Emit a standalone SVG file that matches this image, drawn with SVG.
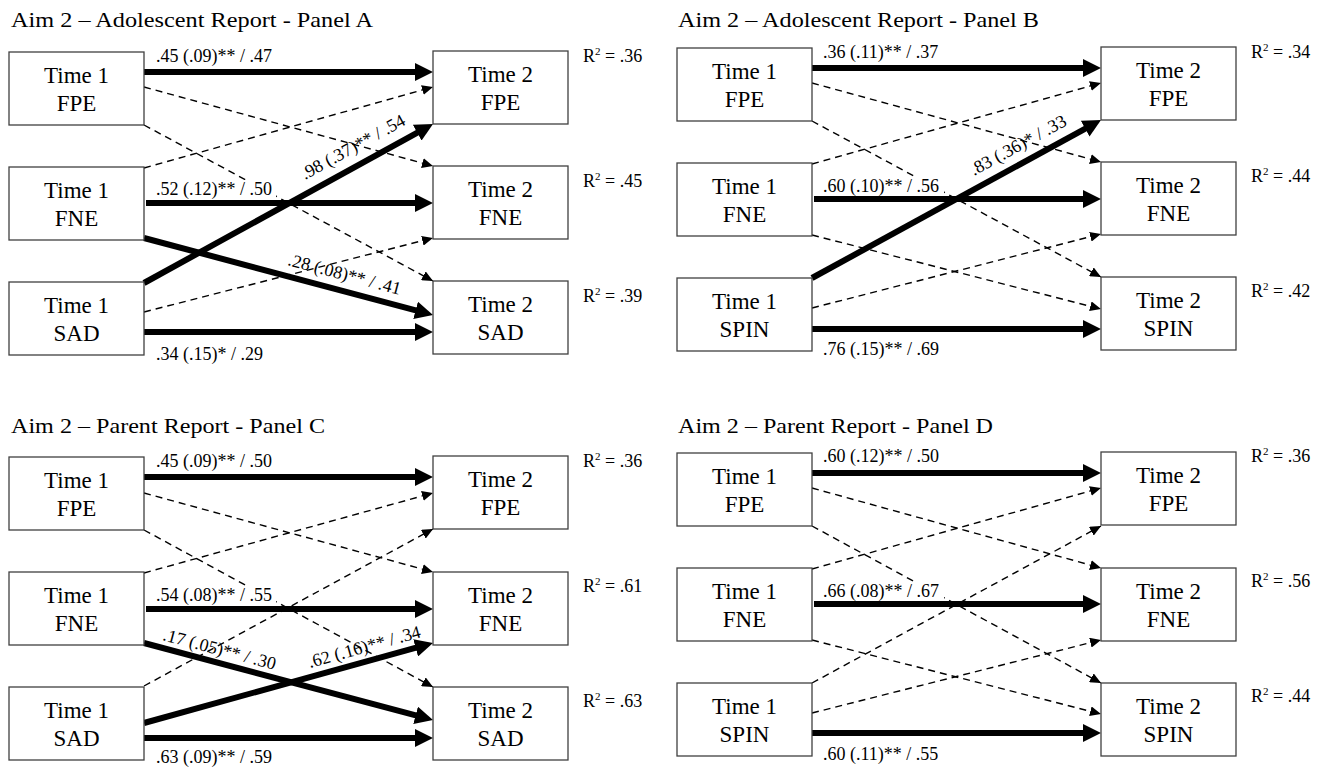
<svg xmlns="http://www.w3.org/2000/svg" width="1324" height="768" viewBox="0 0 1324 768" font-family="'Liberation Serif', 'Times New Roman', serif">
<style>
text{font-family:'Liberation Serif','Times New Roman',serif;fill:#000}
.bg{fill:#fff}
.box{fill:#fff;stroke:#404040;stroke-width:1.3}
.nt{font-size:23px;text-anchor:middle}
.lbl{font-size:18px}
.ttl{font-size:21px}
.thick{stroke:#000;stroke-width:6;fill:none;marker-end:url(#ah)}
.dash{stroke:#000;stroke-width:1.4;stroke-dasharray:7 5;fill:none;marker-end:url(#ahs)}
.lb{fill:#fff}
</style>
<defs>
<marker id="ah" markerUnits="userSpaceOnUse" markerWidth="18" markerHeight="18" viewBox="0 0 18 18" refX="8" refY="9" orient="auto"><path d="M0,0 L18,9 L0,18 z" fill="#000"/></marker>
<marker id="ahs" markerUnits="userSpaceOnUse" markerWidth="11" markerHeight="10" viewBox="0 0 11 10" refX="11" refY="5" orient="auto"><path d="M0,0 L11,5 L0,10 z" fill="#000"/></marker>
</defs>
<rect class="bg" x="0" y="0" width="1324" height="768"/>

<g id="titles">
<text class="ttl" x="11" y="27" textLength="362" lengthAdjust="spacingAndGlyphs">Aim 2 – Adolescent Report - Panel A</text>
<text class="ttl" x="678" y="27" textLength="361" lengthAdjust="spacingAndGlyphs">Aim 2 – Adolescent Report - Panel B</text>
<text class="ttl" x="11" y="433" textLength="314" lengthAdjust="spacingAndGlyphs">Aim 2 – Parent Report - Panel C</text>
<text class="ttl" x="678" y="433" textLength="315" lengthAdjust="spacingAndGlyphs">Aim 2 – Parent Report - Panel D</text>
</g>

<g id="connectors">
<!-- Panel A -->
<line class="dash" x1="144" y1="87" x2="433" y2="166"/>
<line class="dash" x1="144" y1="125" x2="433" y2="281"/>
<line class="dash" x1="144" y1="168" x2="433" y2="87"/>
<line class="dash" x1="144" y1="312" x2="433" y2="238"/>
<line class="thick" x1="144" y1="72" x2="423" y2="72"/>
<line class="thick" x1="146" y1="203" x2="423" y2="203"/>
<line class="thick" x1="144" y1="238" x2="423.34" y2="312.43"/>
<line class="thick" x1="144" y1="283" x2="424.24" y2="128.82"/>
<line class="thick" x1="144" y1="332" x2="423" y2="332"/>
<!-- Panel B -->
<line class="dash" x1="812" y1="83" x2="1101" y2="162"/>
<line class="dash" x1="812" y1="121" x2="1101" y2="277"/>
<line class="dash" x1="812" y1="164" x2="1101" y2="83"/>
<line class="dash" x1="812" y1="235" x2="1101" y2="309"/>
<line class="dash" x1="812" y1="308" x2="1101" y2="234"/>
<line class="thick" x1="812" y1="68" x2="1091" y2="68"/>
<line class="thick" x1="814" y1="199" x2="1091" y2="199"/>
<line class="thick" x1="812" y1="278" x2="1092.23" y2="124.80"/>
<line class="thick" x1="812" y1="329" x2="1091" y2="329"/>
<!-- Panel C -->
<line class="dash" x1="144" y1="493" x2="433" y2="572"/>
<line class="dash" x1="144" y1="530" x2="433" y2="687"/>
<line class="dash" x1="144" y1="573" x2="433" y2="493"/>
<line class="dash" x1="144" y1="686" x2="433" y2="529"/>
<line class="thick" x1="144" y1="477" x2="423" y2="477"/>
<line class="thick" x1="146" y1="609" x2="423" y2="609"/>
<line class="thick" x1="144" y1="643" x2="423.34" y2="717.43"/>
<line class="thick" x1="144" y1="723" x2="423.36" y2="645.67"/>
<line class="thick" x1="144" y1="738" x2="423" y2="738"/>
<!-- Panel D -->
<line class="dash" x1="812" y1="488" x2="1101" y2="568"/>
<line class="dash" x1="812" y1="526" x2="1101" y2="683"/>
<line class="dash" x1="812" y1="569" x2="1101" y2="488"/>
<line class="dash" x1="812" y1="640" x2="1101" y2="714"/>
<line class="dash" x1="812" y1="683" x2="1101" y2="526"/>
<line class="dash" x1="812" y1="713" x2="1101" y2="640"/>
<line class="thick" x1="812" y1="473" x2="1091" y2="473"/>
<line class="thick" x1="814" y1="604" x2="1091" y2="604"/>
<line class="thick" x1="812" y1="733" x2="1091" y2="733"/>
</g>

<g id="labels">
<rect class="lb" x="154" y="180" width="122" height="18"/>
<rect class="lb" x="821" y="177" width="123" height="18"/>
<rect class="lb" x="154" y="586" width="122" height="18"/>
<rect class="lb" x="821" y="582" width="123" height="18"/>
<!-- Panel A -->
<text class="lbl" x="156" y="62">.45 (.09)** / .47</text>
<text class="lbl" x="156" y="195">.52 (.12)** / .50</text>
<text class="lbl" x="156" y="360">.34 (.15)* / .29</text>
<text class="lbl" transform="translate(305,180) rotate(-28.8)">.98 (.37)** / .54</text>
<text class="lbl" transform="translate(287,265) rotate(14.9)">.28 (.08)** / .41</text>
<text class="lbl" x="583" y="62">R<tspan font-size="11" dy="-7">2</tspan><tspan dy="7"> = .36</tspan></text>
<text class="lbl" x="583" y="187">R<tspan font-size="11" dy="-7">2</tspan><tspan dy="7"> = .45</tspan></text>
<text class="lbl" x="583" y="302">R<tspan font-size="11" dy="-7">2</tspan><tspan dy="7"> = .39</tspan></text>
<!-- Panel B -->
<text class="lbl" x="823" y="58">.36 (.11)** / .37</text>
<text class="lbl" x="823" y="192">.60 (.10)** / .56</text>
<text class="lbl" x="823" y="355">.76 (.15)** / .69</text>
<text class="lbl" transform="translate(974,176) rotate(-28.7)">.83 (.36)* / .33</text>
<text class="lbl" x="1251" y="58">R<tspan font-size="11" dy="-7">2</tspan><tspan dy="7"> = .34</tspan></text>
<text class="lbl" x="1251" y="182">R<tspan font-size="11" dy="-7">2</tspan><tspan dy="7"> = .44</tspan></text>
<text class="lbl" x="1251" y="297">R<tspan font-size="11" dy="-7">2</tspan><tspan dy="7"> = .42</tspan></text>
<!-- Panel C -->
<text class="lbl" x="156" y="467">.45 (.09)** / .50</text>
<text class="lbl" x="156" y="601">.54 (.08)** / .55</text>
<text class="lbl" x="156" y="763">.63 (.09)** / .59</text>
<text class="lbl" transform="translate(162,640) rotate(14.9)">.17 (.05)** / .30</text>
<text class="lbl" transform="translate(310,668) rotate(-15.5)">.62 (.16)** / .34</text>
<text class="lbl" x="583" y="467">R<tspan font-size="11" dy="-7">2</tspan><tspan dy="7"> = .36</tspan></text>
<text class="lbl" x="583" y="592">R<tspan font-size="11" dy="-7">2</tspan><tspan dy="7"> = .61</tspan></text>
<text class="lbl" x="583" y="707">R<tspan font-size="11" dy="-7">2</tspan><tspan dy="7"> = .63</tspan></text>
<!-- Panel D -->
<text class="lbl" x="823" y="462">.60 (.12)** / .50</text>
<text class="lbl" x="823" y="597">.66 (.08)** / .67</text>
<text class="lbl" x="823" y="760">.60 (.11)** / .55</text>
<text class="lbl" x="1251" y="462">R<tspan font-size="11" dy="-7">2</tspan><tspan dy="7"> = .36</tspan></text>
<text class="lbl" x="1251" y="587">R<tspan font-size="11" dy="-7">2</tspan><tspan dy="7"> = .56</tspan></text>
<text class="lbl" x="1251" y="702">R<tspan font-size="11" dy="-7">2</tspan><tspan dy="7"> = .44</tspan></text>
</g>

<!-- Panel A nodes -->
<g id="a_t1_fpe"><rect class="box" x="9" y="52" width="135" height="73"/><text class="nt" x="76.5" y="83">Time 1</text><text class="nt" x="76.5" y="111">FPE</text></g>
<g id="a_t1_fne"><rect class="box" x="9" y="167" width="135" height="73"/><text class="nt" x="76.5" y="198">Time 1</text><text class="nt" x="76.5" y="226">FNE</text></g>
<g id="a_t1_sad"><rect class="box" x="9" y="282" width="135" height="73"/><text class="nt" x="76.5" y="313">Time 1</text><text class="nt" x="76.5" y="341">SAD</text></g>
<g id="a_t2_fpe"><rect class="box" x="433" y="51" width="135" height="73"/><text class="nt" x="500.5" y="82">Time 2</text><text class="nt" x="500.5" y="110">FPE</text></g>
<g id="a_t2_fne"><rect class="box" x="433" y="166" width="135" height="73"/><text class="nt" x="500.5" y="197">Time 2</text><text class="nt" x="500.5" y="225">FNE</text></g>
<g id="a_t2_sad"><rect class="box" x="433" y="281" width="135" height="73"/><text class="nt" x="500.5" y="312">Time 2</text><text class="nt" x="500.5" y="340">SAD</text></g>
<!-- Panel B nodes -->
<g id="b_t1_fpe"><rect class="box" x="677" y="48" width="135" height="73"/><text class="nt" x="744.5" y="79">Time 1</text><text class="nt" x="744.5" y="107">FPE</text></g>
<g id="b_t1_fne"><rect class="box" x="677" y="163" width="135" height="73"/><text class="nt" x="744.5" y="194">Time 1</text><text class="nt" x="744.5" y="222">FNE</text></g>
<g id="b_t1_spin"><rect class="box" x="677" y="278" width="135" height="73"/><text class="nt" x="744.5" y="309">Time 1</text><text class="nt" x="744.5" y="337">SPIN</text></g>
<g id="b_t2_fpe"><rect class="box" x="1101" y="47" width="135" height="73"/><text class="nt" x="1168.5" y="78">Time 2</text><text class="nt" x="1168.5" y="106">FPE</text></g>
<g id="b_t2_fne"><rect class="box" x="1101" y="162" width="135" height="73"/><text class="nt" x="1168.5" y="193">Time 2</text><text class="nt" x="1168.5" y="221">FNE</text></g>
<g id="b_t2_spin"><rect class="box" x="1101" y="277" width="135" height="73"/><text class="nt" x="1168.5" y="308">Time 2</text><text class="nt" x="1168.5" y="336">SPIN</text></g>
<!-- Panel C nodes -->
<g id="c_t1_fpe"><rect class="box" x="9" y="457" width="135" height="73"/><text class="nt" x="76.5" y="488">Time 1</text><text class="nt" x="76.5" y="516">FPE</text></g>
<g id="c_t1_fne"><rect class="box" x="9" y="572" width="135" height="73"/><text class="nt" x="76.5" y="603">Time 1</text><text class="nt" x="76.5" y="631">FNE</text></g>
<g id="c_t1_sad"><rect class="box" x="9" y="687" width="135" height="73"/><text class="nt" x="76.5" y="718">Time 1</text><text class="nt" x="76.5" y="746">SAD</text></g>
<g id="c_t2_fpe"><rect class="box" x="433" y="456" width="135" height="73"/><text class="nt" x="500.5" y="487">Time 2</text><text class="nt" x="500.5" y="515">FPE</text></g>
<g id="c_t2_fne"><rect class="box" x="433" y="572" width="135" height="73"/><text class="nt" x="500.5" y="603">Time 2</text><text class="nt" x="500.5" y="631">FNE</text></g>
<g id="c_t2_sad"><rect class="box" x="433" y="687" width="135" height="73"/><text class="nt" x="500.5" y="718">Time 2</text><text class="nt" x="500.5" y="746">SAD</text></g>
<!-- Panel D nodes -->
<g id="d_t1_fpe"><rect class="box" x="677" y="453" width="135" height="73"/><text class="nt" x="744.5" y="484">Time 1</text><text class="nt" x="744.5" y="512">FPE</text></g>
<g id="d_t1_fne"><rect class="box" x="677" y="568" width="135" height="73"/><text class="nt" x="744.5" y="599">Time 1</text><text class="nt" x="744.5" y="627">FNE</text></g>
<g id="d_t1_spin"><rect class="box" x="677" y="683" width="135" height="73"/><text class="nt" x="744.5" y="714">Time 1</text><text class="nt" x="744.5" y="742">SPIN</text></g>
<g id="d_t2_fpe"><rect class="box" x="1101" y="452" width="135" height="73"/><text class="nt" x="1168.5" y="483">Time 2</text><text class="nt" x="1168.5" y="511">FPE</text></g>
<g id="d_t2_fne"><rect class="box" x="1101" y="568" width="135" height="73"/><text class="nt" x="1168.5" y="599">Time 2</text><text class="nt" x="1168.5" y="627">FNE</text></g>
<g id="d_t2_spin"><rect class="box" x="1101" y="683" width="135" height="73"/><text class="nt" x="1168.5" y="714">Time 2</text><text class="nt" x="1168.5" y="742">SPIN</text></g>
</svg>
